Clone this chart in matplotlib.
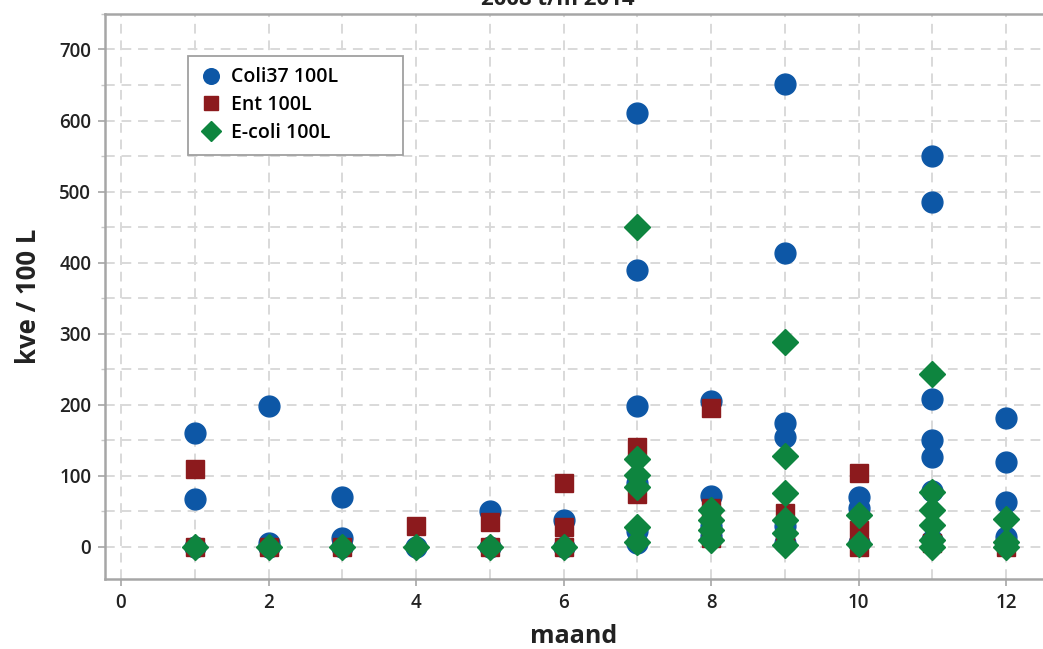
import matplotlib
matplotlib.use('Agg')
from matplotlib import pyplot as plt
from matplotlib.ticker import MultipleLocator

plt.rcParams['font.family'] = ['Open Sans', 'DejaVu Sans']

# Coli37 per 100 L
coli_month = [1, 1, 1, 2, 2, 2, 3, 3, 3, 4, 5, 5, 6, 6,
              7, 7, 7, 7, 7, 7, 8, 8, 8, 8, 9, 9, 9, 9, 9, 9,
              10, 10, 10, 11, 11, 11, 11, 11, 11, 11, 12, 12, 12, 12]
coli_val = [160, 68, 0, 198, 5, 0, 70, 12, 0, 0, 50, 0, 38, 0,
            610, 390, 198, 90, 22, 5, 205, 72, 30, 15, 651, 413, 175, 155, 30, 5,
            70, 55, 5, 550, 485, 208, 150, 127, 78, 10, 181, 120, 63, 14]

# Enterococcen per 100 L
ent_month = [1, 1, 2, 3, 4, 5, 5, 6, 6, 6, 7, 7, 8, 8, 8, 9, 9, 10, 10, 10, 11, 12]
ent_val = [110, 0, 0, 0, 30, 35, 0, 90, 28, 0, 140, 75, 196, 55, 12, 48, 10, 104, 24, 0, 5, 0]

# E-coli per 100 L
ecoli_month = [1, 2, 3, 4, 5, 6, 7, 7, 7, 7, 7, 7, 8, 8, 8, 8,
               9, 9, 9, 9, 9, 9, 10, 10, 11, 11, 11, 11, 11, 11, 12, 12, 12]
ecoli_val = [0, 0, 0, 0, 0, 0, 450, 124, 101, 84, 28, 7, 52, 38, 24, 10,
             289, 128, 76, 38, 20, 3, 45, 4, 243, 77, 52, 31, 10, 0, 40, 7, 0]

fig = plt.figure(figsize=(10.43, 6.49), dpi=100)
ax = fig.add_axes([0.1007, 0.108, 0.8993, 0.8705])

ax.plot(coli_month, coli_val, 'o', ms=15, color='#0d57a6', mec='#0d57a6', label='Coli37 100L', zorder=3)
ax.plot(ent_month, ent_val, 's', ms=13, color='#8c1a1d', mec='#8c1a1d', label='Ent 100L', zorder=4)
ax.plot(ecoli_month, ecoli_val, 'D', ms=13, color='#0e853f', mec='#0e853f', label='E-coli 100L', zorder=5)

ax.set_xlim(-0.217, 12.5)
ax.set_ylim(-45, 750)
ax.xaxis.set_major_locator(MultipleLocator(2))
ax.xaxis.set_minor_locator(MultipleLocator(1))
ax.yaxis.set_major_locator(MultipleLocator(100))
ax.yaxis.set_minor_locator(MultipleLocator(50))

#grid
ax.grid(True, which='both', color='#d9d9d9', linestyle=(0, (5, 3.5)), linewidth=1.4, zorder=0)
ax.set_axisbelow(True)

#spines
for s in ['left', 'bottom', 'top']:
    ax.spines[s].set_color('#a6a6a6')
    ax.spines[s].set_linewidth(1.8)
ax.spines['right'].set_visible(False)

ax.tick_params(which='major', length=5, width=1.2, color='#a6a6a6', labelsize=13.5,
               labelcolor='#222222', pad=5)
ax.tick_params(which='minor', length=3, width=1, color='#c8c8c8')
ax.tick_params(axis='x', which='minor', length=0)
for lbl in ax.get_xticklabels() + ax.get_yticklabels():
    lbl.set_fontweight('semibold')

#labels
ax.set_xlabel('maand', fontsize=18, fontweight='bold', color='#222222', labelpad=8)
ax.set_ylabel('kve / 100 L', fontsize=18.5, fontweight='bold', color='#222222', labelpad=12)

#title, cut off at the top of the picture (as in the original)
fig.text(0.535, 1 - 5 / 649, '2008 t/m 2014', ha='center', va='baseline',
         fontsize=16, fontweight='bold', color='#222222')

#legend
leg = ax.legend(loc='upper left', bbox_to_anchor=(0.0885, 0.926, 0.229, 0.0), mode='expand',
                borderaxespad=0, fontsize=14, frameon=True, fancybox=False,
                edgecolor='#a0a0a0', framealpha=1, borderpad=0.6, labelspacing=0.4,
                handletextpad=0.4, handlelength=1.2, markerscale=0.75)
leg.get_frame().set_linewidth(1.3)
for t in leg.get_texts():
    t.set_fontweight('semibold')

plt.savefig('out.png', dpi=100)
